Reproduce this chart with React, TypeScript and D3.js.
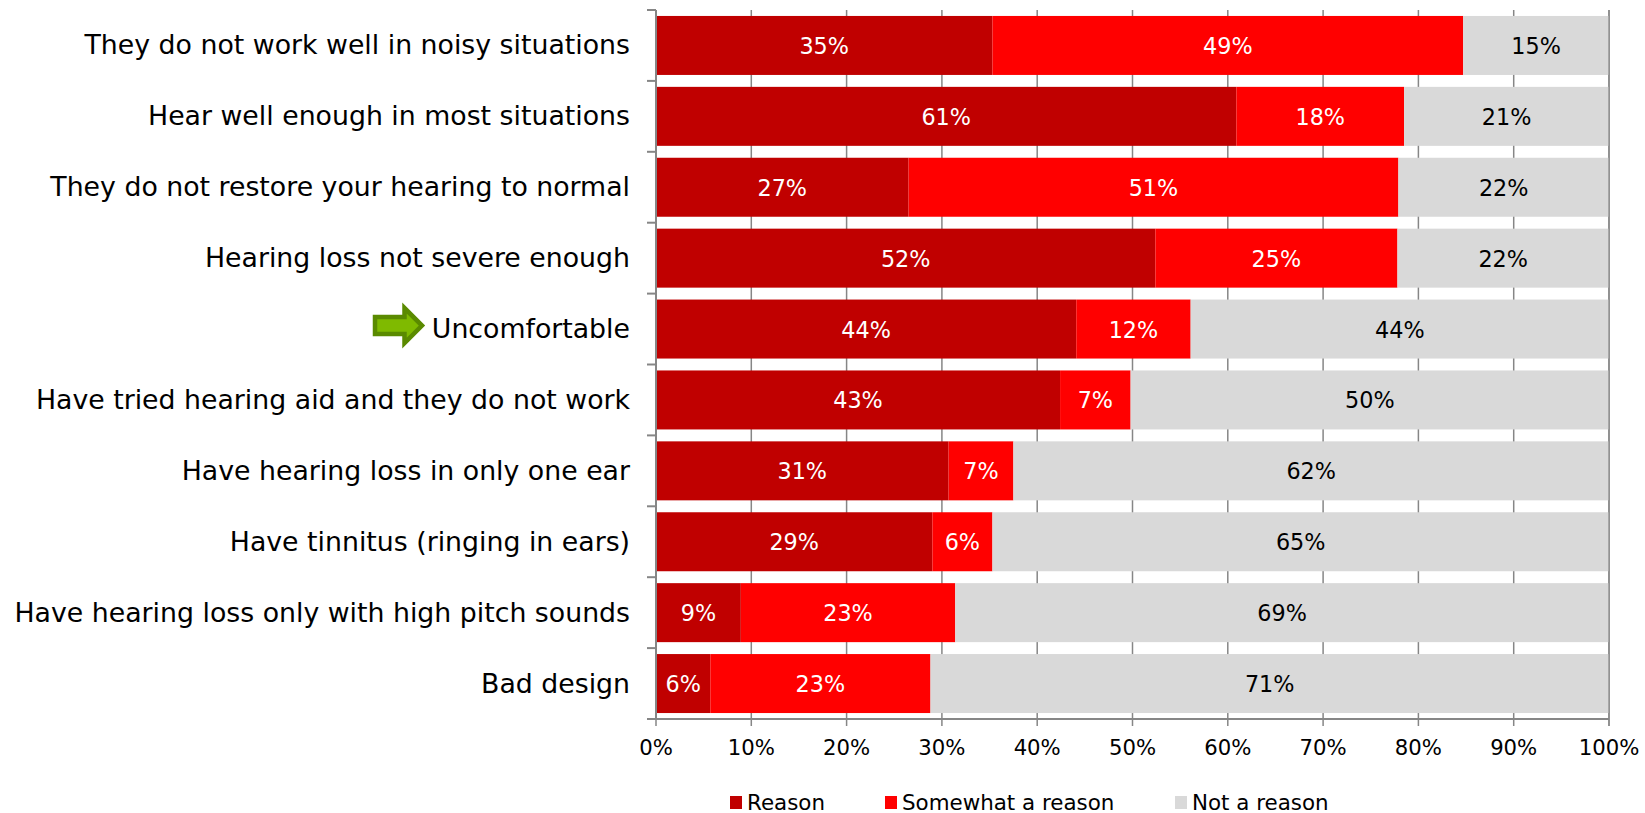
import React from "react";
import * as d3 from "d3";

const categories = [
  "They do not work well in noisy situations",
  "Hear well enough in most situations",
  "They do not restore your hearing to normal",
  "Hearing loss not severe enough",
  "Uncomfortable",
  "Have tried hearing aid and they do not work",
  "Have hearing loss in only one ear",
  "Have tinnitus (ringing in ears)",
  "Have hearing loss only with high pitch sounds",
  "Bad design",
];
const reason = [35.3, 60.9, 26.5, 52.4, 44.1, 42.4, 30.7, 29.0, 8.9, 5.7];
const somewhat = [49.4, 17.6, 51.4, 25.4, 12.0, 7.4, 6.8, 6.3, 22.5, 23.1];
const notReason = [15.3, 21.5, 22.1, 22.2, 43.9, 50.2, 62.5, 64.7, 68.6, 71.2];
const reasonLabels = ["35%", "61%", "27%", "52%", "44%", "43%", "31%", "29%", "9%", "6%"];
const somewhatLabels = ["49%", "18%", "51%", "25%", "12%", "7%", "7%", "6%", "23%", "23%"];
const notReasonLabels = ["15%", "21%", "22%", "22%", "44%", "50%", "62%", "65%", "69%", "71%"];
const seriesNames = ["Reason", "Somewhat a reason", "Not a reason"];
const seriesColors = ["#c00000", "#ff0000", "#d9d9d9"];
const labelColors = ["#ffffff", "#ffffff", "#000000"];
const xTicks = [0, 10, 20, 30, 40, 50, 60, 70, 80, 90, 100];
const highlighted = "Uncomfortable";
const legendX = [730, 885, 1175];

const FONT = "'DejaVu Sans', Verdana, sans-serif";
const AXIS = "#868686";

export default function App() {
  const left = 656;
  const right = 1609;
  const top = 10;
  const bottom = 719;
  const x = d3.scaleLinear().domain([0, 100]).range([left, right]);
  const yBand = d3
    .scaleBand<string>()
    .domain(categories)
    .range([top, bottom])
    .paddingInner(0.168)
    .paddingOuter(0.084);
  const step = yBand.step();
  const rows = categories.map((c, i) => ({ c, a: reason[i], b: somewhat[i], d: notReason[i] }));
  const stacked = d3.stack<any>().keys(["a", "b", "d"])(rows);
  const allLabels = [reasonLabels, somewhatLabels, notReasonLabels];

  const arrowY = (yBand(highlighted) as number) + yBand.bandwidth() / 2 - 3.5;

  return (
    <svg
      width={1645}
      height={813}
      style={{ position: "absolute", left: 0, top: 0, background: "#fff" }}
      fontFamily={FONT}
    >
      {xTicks.map((t) => (
        <line key={t} x1={x(t)} x2={x(t)} y1={top} y2={bottom + 7} stroke={AXIS} strokeWidth={1.5} />
      ))}
      {stacked.map((s, si) => (
        <g key={si}>
          {s.map((d, i) => (
            <rect
              key={i}
              x={x(d[0])}
              y={yBand(categories[i])}
              width={x(Math.min(d[1], 100)) - x(d[0])}
              height={yBand.bandwidth()}
              fill={seriesColors[si]}
            />
          ))}
        </g>
      ))}
      <line x1={left} x2={left} y1={top} y2={bottom} stroke={AXIS} strokeWidth={2} />
      <line x1={left - 9} x2={right} y1={bottom} y2={bottom} stroke={AXIS} strokeWidth={2} />
      <line x1={right} x2={right} y1={top} y2={bottom + 7} stroke={AXIS} strokeWidth={1.2} />
      {d3.range(categories.length).map((i) => (
        <line
          key={i}
          x1={left - 9}
          x2={left}
          y1={top + i * step}
          y2={top + i * step}
          stroke={AXIS}
          strokeWidth={2}
        />
      ))}
      {stacked.map((s, si) => (
        <g key={si}>
          {s.map((d, i) => (
            <text
              key={i}
              x={(x(d[0]) + x(Math.min(d[1], 100))) / 2}
              y={(yBand(categories[i]) as number) + yBand.bandwidth() / 2 + 8.5}
              textAnchor="middle"
              fontSize={22.3}
              fill={labelColors[si]}
            >
              {allLabels[si][i]}
            </text>
          ))}
        </g>
      ))}
      {categories.map((c) => (
        <text
          key={c}
          x={630}
          y={(yBand(c) as number) + yBand.bandwidth() / 2 + 9}
          textAnchor="end"
          fontSize={26.75}
          fill="#000"
        >
          {c}
        </text>
      ))}
      {xTicks.map((t) => (
        <text key={t} x={x(t)} y={755} textAnchor="middle" fontSize={21.2} fill="#000">
          {t}%
        </text>
      ))}
      <path
        d={`M375 ${arrowY - 8.5} H404.5 V${arrowY - 17.5} L422 ${arrowY} L404.5 ${arrowY + 17.5} V${arrowY + 8.5} H375 Z`}
        fill="#7fba00"
        stroke="#5a8a00"
        strokeWidth={4.5}
      />
      {seriesNames.map((n, i) => (
        <g key={n}>
          <rect x={legendX[i]} y={796} width={12} height={13} fill={seriesColors[i]} />
          <text x={legendX[i] + 17} y={809.5} fontSize={21.4} fill="#000">
            {n}
          </text>
        </g>
      ))}
    </svg>
  );
}
